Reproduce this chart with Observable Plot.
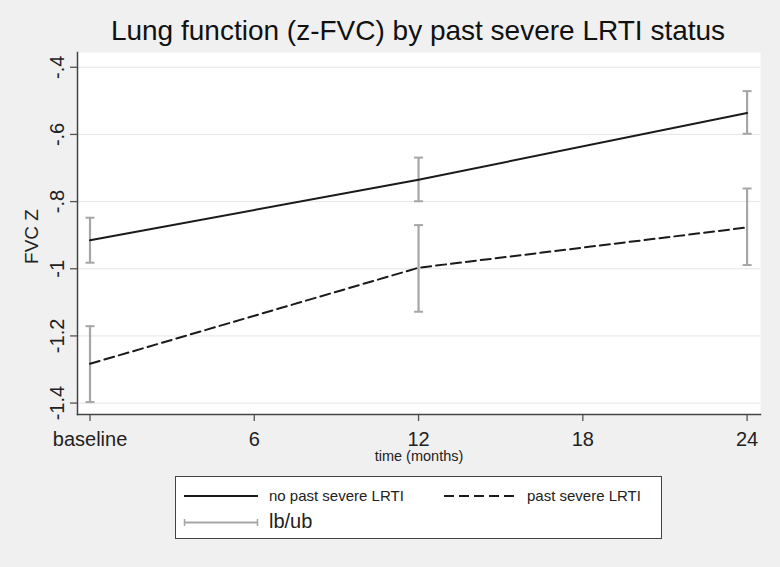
<!DOCTYPE html>
<html>
<head>
<meta charset="utf-8">
<script src="https://cdn.jsdelivr.net/npm/d3@7"></script>
<script src="https://cdn.jsdelivr.net/npm/@observablehq/plot@0.6"></script>
<style>
  html, body { margin: 0; padding: 0; background: #f0f0f0; }
  #wrap { position: relative; width: 780px; height: 567px; background: #f0f0f0; font-family: "Liberation Sans", Arial, sans-serif; overflow: hidden; }
  #title { position: absolute; left: 0; top: 15px; width: 836px; text-align: center; font-size: 28px; color: #111; white-space: nowrap; }
  #chart { position: absolute; left: 0; top: 50px; }
  #legend { position: absolute; left: 175px; top: 476px; width: 485px; height: 61px; background: #fff; border: 1.5px solid #444; }
  .lt { position: absolute; color: #222; white-space: nowrap; }
</style>
</head>
<body>
<div id="wrap">
  <div id="title">Lung function (z-FVC) by past severe LRTI status</div>
  <div id="chart"></div>
  <div id="legend">
    <svg width="485" height="61" style="position:absolute;left:0;top:0">
      <line x1="8" x2="82" y1="19" y2="19" stroke="#1a1a1a" stroke-width="2"/>
      <line x1="268" x2="343" y1="19" y2="19" stroke="#1a1a1a" stroke-width="2" stroke-dasharray="10,5"/>
      <line x1="8" x2="82" y1="45.5" y2="45.5" stroke="#a6a6a6" stroke-width="2"/>
      <line x1="8.5" x2="8.5" y1="42" y2="49" stroke="#a6a6a6" stroke-width="1.5"/>
      <line x1="81.5" x2="81.5" y1="42" y2="49" stroke="#a6a6a6" stroke-width="1.5"/>
    </svg>
    <div class="lt" style="left:93px;top:10px;font-size:15px;">no past severe LRTI</div>
    <div class="lt" style="left:351px;top:10px;font-size:15px;">past severe LRTI</div>
    <div class="lt" style="left:93px;top:33px;font-size:20px;">lb/ub</div>
  </div>
</div>
<script>
// ---- data ----
const times = [0, 12, 24];
const groups = ["no past severe LRTI", "past severe LRTI"];
const noPastEst = [-0.915, -0.735, -0.536];
const noPastLo  = [-0.982, -0.799, -0.598];
const noPastHi  = [-0.848, -0.669, -0.471];
const pastEst   = [-1.283, -0.997, -0.877];
const pastLo    = [-1.397, -1.128, -0.989];
const pastHi    = [-1.171, -0.870, -0.761];
const xTicks = [0, 6, 12, 18, 24];
const xTickLabels = ["baseline", "6", "12", "18", "24"];
const yTicks = [-0.4, -0.6, -0.8, -1.0, -1.2, -1.4];
const yTickLabels = ["-.4", "-.6", "-.8", "-1", "-1.2", "-1.4"];

const rows = [];
times.forEach((t, i) => {
  rows.push({t, group: groups[0], est: noPastEst[i], lo: noPastLo[i], hi: noPastHi[i]});
  rows.push({t, group: groups[1], est: pastEst[i], lo: pastLo[i], hi: pastHi[i]});
});

const cap = {
  draw(ctx, size) {
    const r = Math.sqrt(size / Math.PI);
    ctx.moveTo(-r, 0); ctx.lineTo(r, 0);
  }
};

const chart = Plot.plot({
  width: 780,
  height: 415,
  marginLeft: 77,
  marginRight: 20,
  marginTop: 2,
  marginBottom: 51,
  style: {background: "transparent", fontFamily: "Liberation Sans, Arial, sans-serif", color: "#222"},
  x: {domain: [-0.457, 24.49], ticks: xTicks},
  y: {domain: [-1.434, -0.356]},
  marks: [
    Plot.frame({fill: "white", stroke: "none"}),
    Plot.gridY(yTicks, {stroke: "#e4e4e4", strokeOpacity: 1, strokeWidth: 1}),
    Plot.axisX(xTicks, {tickSize: 7, tickPadding: 10, fontSize: 20, stroke: "#555", strokeWidth: 1.3,
      tickFormat: d => xTickLabels[xTicks.indexOf(d)], label: null}),
    Plot.axisY(yTicks, {tickSize: 7, stroke: "#555", strokeWidth: 1.3, tickFormat: () => "", label: null}),
    Plot.text(yTicks, {y: d => d, text: (d, i) => yTickLabels[i], frameAnchor: "left", dx: -14,
      rotate: -90, textAnchor: "middle", lineAnchor: "bottom", fontSize: 20, fill: "#222"}),
    Plot.text(["FVC Z"], {frameAnchor: "left", dx: -40, dy: 3, rotate: -90, textAnchor: "middle",
      lineAnchor: "bottom", fontSize: 19, fill: "#222"}),
    Plot.text(["time (months)"], {frameAnchor: "bottom", dy: 42, lineAnchor: "middle", fontSize: 14.5, fill: "#222"}),
    Plot.frame({anchor: "bottom", stroke: "#444", strokeWidth: 1.5}),
    Plot.frame({anchor: "left", stroke: "#444", strokeWidth: 1.5}),
    Plot.ruleX(rows, {x: "t", y1: "lo", y2: "hi", stroke: "#a6a6a6", strokeWidth: 2.2}),
    Plot.dot(rows, {x: "t", y: "lo", symbol: cap, r: 4.5, stroke: "#a6a6a6", strokeWidth: 2, fill: "none"}),
    Plot.dot(rows, {x: "t", y: "hi", symbol: cap, r: 4.5, stroke: "#a6a6a6", strokeWidth: 2, fill: "none"}),
    Plot.line(rows.filter(d => d.group === groups[0]), {x: "t", y: "est", stroke: "#1a1a1a", strokeWidth: 2}),
    Plot.line(rows.filter(d => d.group === groups[1]), {x: "t", y: "est", stroke: "#1a1a1a", strokeWidth: 2, strokeDasharray: "10,5"})
  ]
});
document.getElementById("chart").appendChild(chart);
</script>
</body>
</html>
